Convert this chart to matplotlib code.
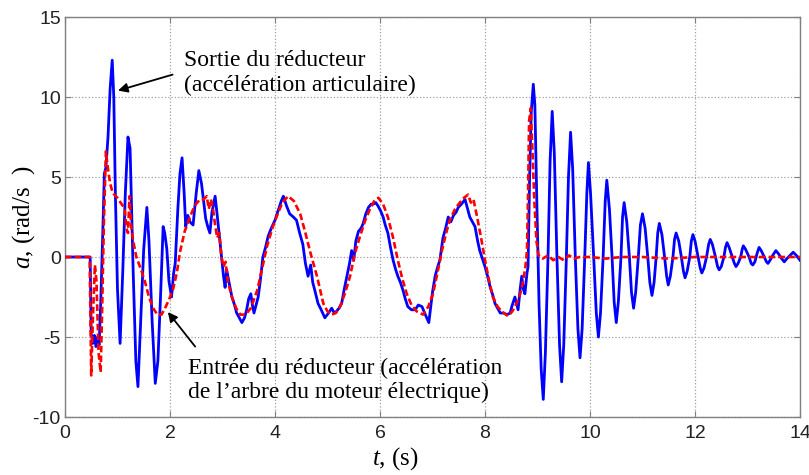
import matplotlib
matplotlib.use("Agg")
import matplotlib.pyplot as plt

# blue: output of the gearbox (joint acceleration)
t_out = [0.0, 0.48, 0.50, 0.53, 0.56, 0.59, 0.62, 0.65, 0.68, 0.70, 0.72, 0.75, 0.78, 0.82, 0.86, 0.90,
         0.93, 0.96, 1.00, 1.05, 1.10, 1.15, 1.20, 1.24, 1.30, 1.35, 1.39, 1.43, 1.50, 1.56, 1.60, 1.66,
         1.72, 1.77, 1.82, 1.87, 1.90, 1.94, 1.98, 2.03, 2.07, 2.10, 2.15, 2.19, 2.23, 2.27, 2.30, 2.34,
         2.38, 2.44, 2.50, 2.55, 2.60, 2.63, 2.68, 2.72, 2.76, 2.80, 2.86, 2.90, 2.95, 2.98, 3.02, 3.05,
         3.08, 3.12, 3.18, 3.23, 3.27, 3.32, 3.37, 3.42, 3.46, 3.50, 3.54, 3.57, 3.60, 3.64, 3.68, 3.72,
         3.77, 3.82, 3.87, 3.93, 4.00, 4.07, 4.12, 4.16, 4.22, 4.28, 4.35, 4.41, 4.47, 4.53, 4.58, 4.63,
         4.68, 4.72, 4.76, 4.82, 4.88, 4.95, 5.02, 5.08, 5.13, 5.17, 5.22, 5.27, 5.32, 5.37, 5.42, 5.46,
         5.50, 5.54, 5.59, 5.64, 5.68, 5.73, 5.78, 5.83, 5.87, 5.92, 5.96, 6.01, 6.06, 6.10, 6.15, 6.20,
         6.25, 6.30, 6.34, 6.39, 6.44, 6.48, 6.53, 6.60, 6.67, 6.73, 6.80, 6.85, 6.89, 6.93, 6.96, 7.00,
         7.05, 7.10, 7.14, 7.20, 7.25, 7.30, 7.35, 7.40, 7.45, 7.49, 7.55, 7.62, 7.67, 7.71, 7.76, 7.81,
         7.86, 7.90, 7.95, 8.00, 8.05, 8.10, 8.15, 8.19, 8.24, 8.29, 8.35, 8.42, 8.48, 8.51, 8.57, 8.60,
         8.63, 8.67, 8.70, 8.73, 8.76, 8.80, 8.82, 8.85, 8.88, 8.92, 8.95, 8.99, 9.03, 9.07, 9.11, 9.15,
         9.20, 9.24, 9.28, 9.32, 9.37, 9.42, 9.46, 9.50, 9.55, 9.59, 9.63, 9.67, 9.72, 9.77, 9.81, 9.85,
         9.90, 9.94, 9.97, 10.01, 10.07, 10.12, 10.16, 10.20, 10.25, 10.29, 10.32, 10.37, 10.42, 10.46,
         10.50, 10.54, 10.59, 10.62, 10.65, 10.70, 10.75, 10.79, 10.83, 10.87, 10.92, 10.96, 11.00, 11.05,
         11.10, 11.14, 11.18, 11.22, 11.26, 11.29, 11.32, 11.37, 11.42, 11.46, 11.49, 11.53, 11.58, 11.61,
         11.64, 11.69, 11.74, 11.78, 11.81, 11.85, 11.90, 11.93, 11.96, 12.00, 12.06, 12.10, 12.13, 12.17,
         12.22, 12.26, 12.29, 12.33, 12.39, 12.43, 12.46, 12.50, 12.55, 12.58, 12.61, 12.65, 12.71, 12.75,
         12.78, 12.82, 12.87, 12.90, 12.92, 12.96, 13.03, 13.07, 13.10, 13.14, 13.18, 13.22, 13.26, 13.32,
         13.36, 13.39, 13.43, 13.48, 13.54, 13.59, 13.65, 13.70, 13.75, 13.81, 13.87, 13.93, 14.00]
a_out = [0.0, 0.0, -4.8, -5.4, -4.9, -5.6, -5.0, -5.5, -3.0, -0.8, 1.5, 5.2, 5.6, 7.5, 10.5, 12.3,
         10.0, 4.0, -2.0, -5.4, -1.0, 4.0, 7.5, 6.8, -1.0, -6.5, -8.1, -5.0, 0.5, 3.1, 1.0, -4.0,
         -7.9, -6.5, -2.5, 1.9, 1.5, 0.5, -1.5, -2.5, -1.0, -0.4, 3.0, 5.2, 6.2, 4.0, 1.9, 2.6,
         2.2, 2.0, 4.0, 5.4, 4.6, 3.8, 2.4, 1.9, 1.5, 2.8, 3.8, 2.6, 1.0, 0.0, -1.2, -1.9,
         -0.8, -1.5, -2.5, -3.0, -3.5, -3.8, -4.1, -3.8, -3.3, -2.6, -2.3, -3.0, -3.5, -3.0, -2.5, -1.5,
         0.0, 0.6, 1.3, 1.8, 2.3, 3.0, 3.5, 3.8, 3.2, 2.7, 2.5, 2.3, 1.5, 0.8, -0.4, -1.2,
         -0.5, -1.6, -2.1, -2.9, -3.3, -3.8, -3.5, -3.2, -3.5, -3.4, -3.2, -2.9, -2.0, -1.2, -0.4, 0.4,
         -0.2, 1.0, 1.6, 1.8, 2.1, 2.7, 3.1, 3.3, 3.3, 3.4, 3.2, 2.9, 2.5, 2.0, 1.5, 0.6,
         -0.2, -0.8, -1.2, -1.6, -2.1, -2.6, -3.1, -3.3, -3.3, -3.0, -3.1, -3.5, -3.8, -4.1, -3.3, -2.2,
         -1.2, -0.6, -0.2, 1.2, 1.8, 2.5, 2.2, 2.6, 2.8, 3.1, 3.3, 3.6, 3.0, 2.5, 2.2, 1.9,
         1.0, 0.4, -0.1, -0.6, -1.2, -1.9, -2.4, -2.9, -3.2, -3.5, -3.5, -3.6, -3.5, -3.1, -2.5, -2.9,
         -3.3, -2.0, -1.2, -2.0, -2.3, -1.0, -0.6, 5.0, 9.0, 10.8, 9.5, 3.0, -3.0, -7.0, -8.9, -6.0,
         0.0, 6.0, 9.1, 6.5, 0.0, -5.5, -7.8, -5.5, 0.0, 5.0, 7.8, 5.5, 0.0, -4.5, -6.3, -4.5,
         0.0, 4.0, 5.9, 4.0, 0.0, -3.5, -5.0, -3.5, 0.0, 3.5, 4.8, 3.0, 0.0, -2.8,
         -4.1, -2.8, 0.0, 2.5, 3.4, 2.2, 0.0, -2.2, -3.2, -2.2, 0.0, 2.0, 2.7, 1.8,
         0.0, -1.6, -2.4, -1.6, 0.0, 1.5, 2.1, 1.4, 0.0, -1.2, -1.75, -1.2, 0.0, 1.1,
         1.5, 1.0, 0.0, -0.9, -1.3, -0.9, 0.0, 1.0, 1.4, 1.0, 0.0, -0.7, -1.0, -0.7,
         0.0, 0.8, 1.1, 0.8, 0.0, -0.6, -0.8, -0.6, 0.0, 0.6, 0.9, 0.6, 0.0, -0.4,
         -0.6, -0.4, 0.0, 0.5, 0.7, 0.5, 0.0, -0.4, -0.5, -0.3, 0.2, 0.6, 0.4, 0.0,
         -0.3, -0.4, -0.2, 0.1, 0.4, 0.2, -0.1, -0.3, -0.1, 0.1, 0.3, 0.1, -0.2]

# red: input of the gearbox (motor shaft acceleration)
t_in = [0.0, 0.47, 0.50, 0.53, 0.57, 0.60, 0.64, 0.68, 0.71, 0.74, 0.78, 0.82, 0.86, 0.91, 1.00, 1.08,
        1.14, 1.17, 1.20, 1.23, 1.26, 1.30, 1.36, 1.45, 1.52, 1.60, 1.68, 1.76, 1.84, 1.92, 1.99, 2.06,
        2.13, 2.19, 2.28, 2.38, 2.47, 2.57, 2.64, 2.70, 2.74, 2.78, 2.82, 2.86, 2.90, 2.94, 2.98, 3.02,
        3.06, 3.10, 3.18, 3.26, 3.34, 3.44, 3.54, 3.66, 3.75, 3.85, 3.95, 4.04, 4.14, 4.25, 4.36, 4.48,
        4.58, 4.68, 4.80, 4.92, 5.00, 5.08, 5.16, 5.24, 5.34, 5.43, 5.52, 5.62, 5.72, 5.81, 5.89, 5.97,
        6.06, 6.15, 6.25, 6.34, 6.42, 6.51, 6.60, 6.70, 6.82, 6.92, 7.01, 7.10, 7.18, 7.26, 7.33, 7.43,
        7.52, 7.60, 7.68, 7.73, 7.78, 7.85, 7.92, 8.00, 8.08, 8.15, 8.24, 8.32, 8.44, 8.52, 8.60, 8.67,
        8.72, 8.77, 8.80, 8.82, 8.84, 8.87, 8.90, 8.94, 8.98, 9.02, 9.10, 9.20, 9.30, 9.40, 9.50, 9.60,
        9.70, 9.80, 10.0, 10.3, 10.6, 11.0, 11.5, 12.0, 12.5, 13.0, 13.5, 14.0]
a_in = [0.0, 0.0, -7.4, -4.0, -0.5, -1.5, -6.0, -7.2, -3.0, 2.0, 6.6, 5.5, 4.6, 4.0, 3.7, 3.3,
        3.0, 1.8, 1.5, 3.8, 2.0, 1.0, 0.0, -0.8, -1.5, -2.5, -3.2, -3.6, -3.6, -3.1, -2.6, -2.0,
        -1.0, 0.3, 1.6, 2.5, 3.2, 3.6, 3.6, 3.8, 3.0, 3.6, 3.0, 2.0, 1.2, 1.5, 0.0, -0.6,
        -0.3, -1.5, -2.5, -3.2, -3.6, -3.6, -3.2, -2.1, -0.8, 0.7, 1.8, 2.6, 3.4, 3.8, 3.5, 2.7,
        1.5, 0.2, -1.2, -2.9, -3.4, -3.6, -3.5, -3.1, -2.2, -1.2, 0.2, 1.3, 2.3, 3.0, 3.5, 3.7,
        3.3, 2.5, 1.2, -0.2, -1.3, -2.3, -3.0, -3.4, -3.6, -3.1, -2.3, -0.9, 0.4, 1.5, 2.3, 3.0,
        3.4, 3.7, 3.9, 3.4, 3.6, 2.5, 1.3, -0.2, -1.5, -2.5, -3.1, -3.4, -3.7, -3.4, -2.9, -2.3,
        -1.6, -0.6, 0.4, 4.0, 8.5, 9.3, 7.0, 3.5, 1.0, 0.1, -0.1, 0.1, -0.2, 0.0, -0.2, 0.1,
        -0.1, 0.0, 0.0, -0.1, 0.0, 0.0, -0.1, 0.0, 0.0, 0.0, 0.0, 0.0]

x_ticks = [0, 2, 4, 6, 8, 10, 12, 14]
y_ticks = [-10, -5, 0, 5, 10, 15]

plt.rcParams['mathtext.fontset'] = 'custom'
plt.rcParams['mathtext.rm'] = 'Liberation Serif'
plt.rcParams['mathtext.it'] = 'Liberation Serif:italic'
plt.rcParams['axes.unicode_minus'] = False

fig = plt.figure(figsize=(8.09, 4.75), dpi=100)
ax = fig.add_axes([0.0803, 0.1221, 0.9086, 0.8421])

ax.plot(t_out, a_out, color='#0000ff', lw=2.0, zorder=3)
ax.plot(t_in, a_in, color='#ff0000', lw=1.9, ls=(0, (2.5, 1.2)), zorder=4)

ax.set_xlim(0, 14)
ax.set_ylim(-10, 15)
ax.set_xticks(x_ticks)
ax.set_yticks(y_ticks)
ax.grid(True, ls=':', color='#a0a0a0', lw=0.9)
for s in ax.spines.values():
    s.set_color('#808080')
    s.set_linewidth(1.0)
ax.tick_params(direction='in', length=4, color='#808080', top=True, right=True,
               labelsize=14, labelcolor='#222222')
ax.tick_params(axis='x', pad=6)
ax.tick_params(axis='y', pad=3)
for lab in ax.get_xticklabels() + ax.get_yticklabels():
    lab.set_fontfamily('Liberation Sans')

ax.set_xlabel('$t$, (s)', fontfamily='Liberation Serif', fontsize=18)
ax.xaxis.set_label_coords((395 - 65) / 735, -0.07)
ax.set_ylabel('$a$, (rad/s  )', fontfamily='Liberation Serif', fontsize=18)
ax.yaxis.set_label_coords(-0.038, 0.5)

ax.text(2.27, 11.5, 'Sortie du réducteur\n(accélération articulaire)',
        fontsize=17, fontfamily='Liberation Serif', ha='left', va='center')
ax.annotate('', xy=(1.01, 10.4), xytext=(2.05, 11.4),
            arrowprops=dict(arrowstyle='-|>', color='k', lw=1.3, mutation_scale=14,
                            shrinkA=0, shrinkB=0))
ax.text(2.34, -7.7, 'Entrée du réducteur (accélération\nde l\u2019arbre du moteur électrique)',
        fontsize=17, fontfamily='Liberation Serif', ha='left', va='center')
ax.annotate('', xy=(1.96, -3.44), xytext=(2.48, -5.6),
            arrowprops=dict(arrowstyle='-|>', color='k', lw=1.3, mutation_scale=14,
                            shrinkA=0, shrinkB=0))

plt.savefig('out.png', dpi=100)
